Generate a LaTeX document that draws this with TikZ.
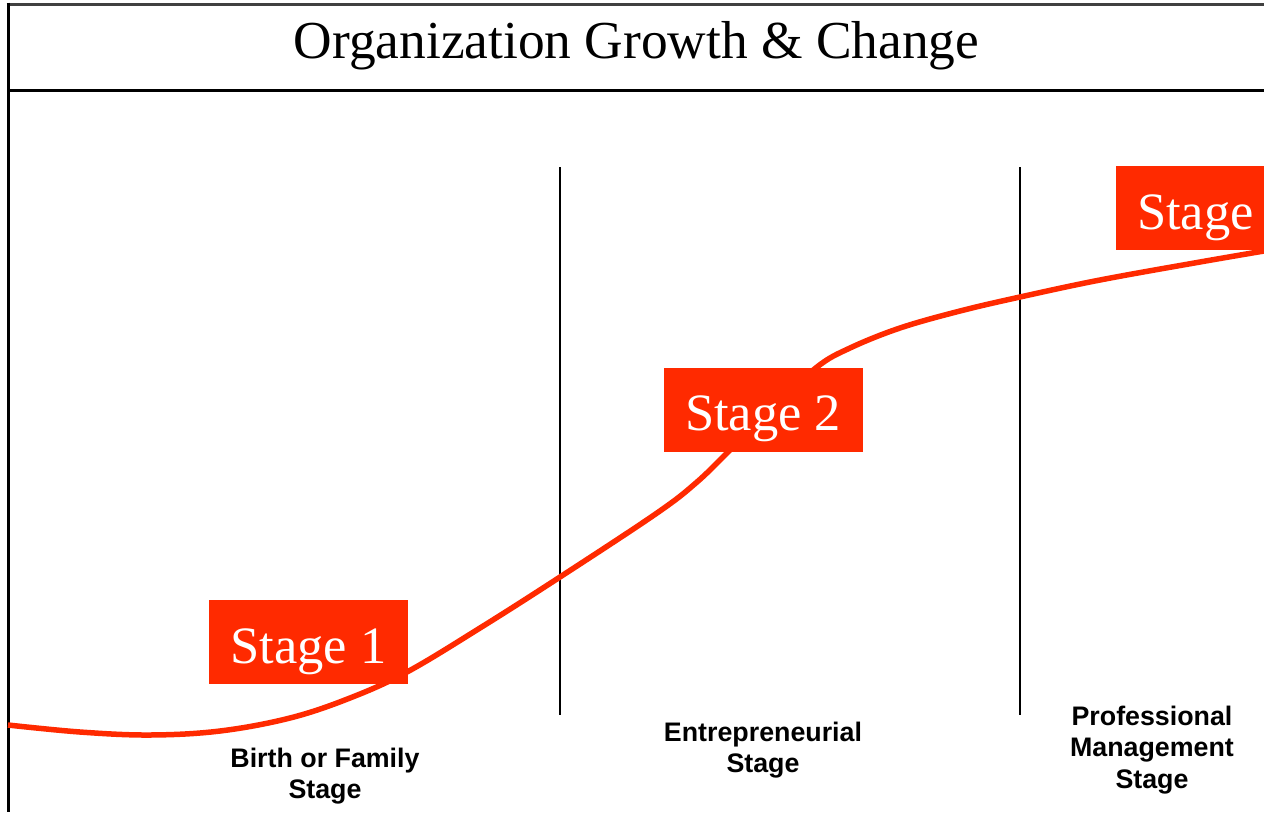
\documentclass[tikz,border=0pt]{standalone}
\usepackage{fontspec}
\setmainfont{Liberation Serif}
\setsansfont{Liberation Sans}
\definecolor{stagered}{HTML}{FF2A00}

\begin{document}
\begin{tikzpicture}
[x=1pt,y=-1pt
,frame/.style={draw=black,line width=3pt}
,divider/.style={draw=black,line width=2pt}
,growth/.style={draw=stagered,line width=5.5pt}
,stagebox/.style={fill=stagered,text=white,inner sep=0pt,minimum width=199pt,minimum height=84pt,text height=42pt,text depth=0pt,font=\fontsize{52.5}{60}\selectfont}
,stagelbl/.style={anchor=north,align=center,inner sep=0pt,font=\sffamily\bfseries\fontsize{26.8}{31.5}\selectfont}
]
\useasboundingbox (0,0) rectangle (1264,812);
\fill[white] (0,0) rectangle (1264,812);
\draw[frame,draw=black!75] (6.5,4) -- (1264,4);
\draw[frame] (8,2.5) -- (8,812);
\draw[frame] (8,90) -- (1264,90);
\node[font=\fontsize{53.4}{60}\selectfont] (title) at (636.5,45.5) {Organization Growth \& Change};
\draw[divider] (560,167) -- (560,715);
\draw[divider] (1020,167) -- (1020,715);
\draw[growth] plot[smooth,tension=0.6] coordinates {(8,725) (80,732) (150,735) (220,731) (290,718) (350,698) (407,672) (480,628) (560,577) (657,513) (697,482) (730,450) (773,408) (817,367) (850,348) (900,328) (960,311) (1020,297) (1100,280) (1200,262) (1264,251)};
\node[stagebox] (s1) at (308.5,642) {Stage 1};
\node[stagebox] (s2) at (763,409.5) {Stage 2};
\node[stagebox,minimum width=0pt,inner xsep=21pt,anchor=west] (s3) at (1116,208) {Stage};
\node[stagelbl] (birth) at (325,747.5) {Birth or Family\\Stage};
\node[stagelbl] (entre) at (763,721.5) {Entrepreneurial\\Stage};
\node[stagelbl] (prof) at (1152,705.5) {Professional\\Management\\Stage};
\end{tikzpicture}
\end{document}
